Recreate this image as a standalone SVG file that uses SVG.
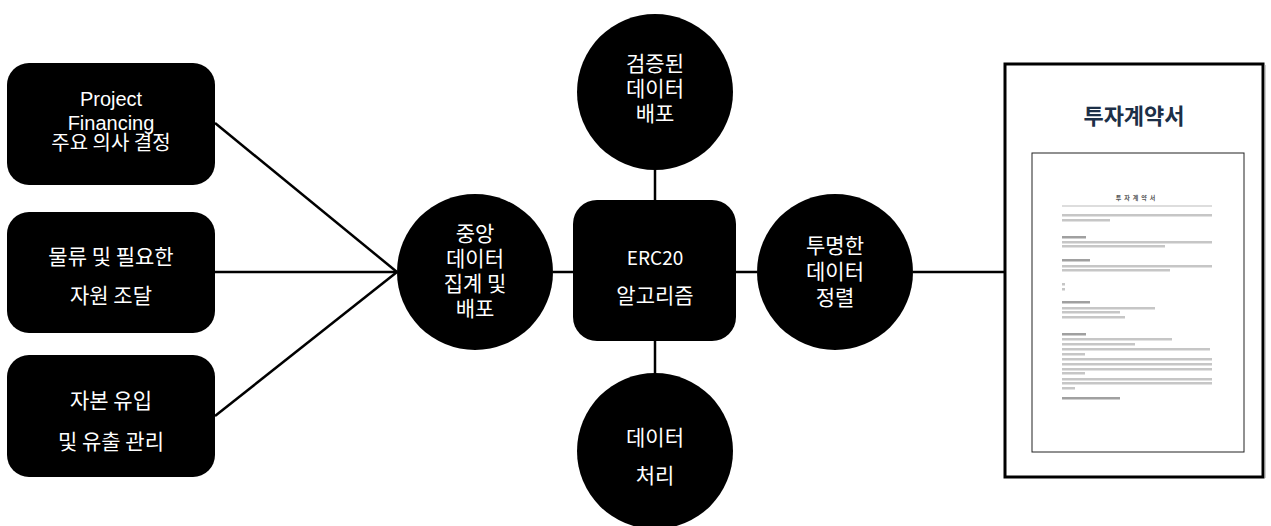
<svg xmlns="http://www.w3.org/2000/svg" width="1271" height="526" viewBox="0 0 1271 526">
<style>
.node{fill:#000}
.lbl{fill:#fff;font-family:"Noto Sans CJK KR","Noto Sans",sans-serif;font-size:21px;text-anchor:middle}
.lat{fill:#fff;font-family:"Liberation Sans",Arial,sans-serif;font-size:20px;text-anchor:middle}
.con{stroke:#000;stroke-width:2.5;fill:none}
.bar{fill:#c6c6c6}
.hd{fill:#a0a0a0}
</style>
<rect width="1271" height="526" fill="#fff"/>
<g id="connectors">
<line class="con" x1="215" y1="123" x2="397" y2="272"/>
<line class="con" x1="215" y1="272" x2="397" y2="272"/>
<line class="con" x1="215" y1="416" x2="397" y2="272"/>
<line class="con" x1="553" y1="272" x2="573" y2="272"/>
<line class="con" x1="655" y1="168" x2="655" y2="200"/>
<line class="con" x1="655" y1="341" x2="655" y2="374"/>
<line class="con" x1="736" y1="272" x2="757" y2="272"/>
<line class="con" x1="913" y1="272" x2="1005" y2="272"/>
</g>
<g id="box-pf">
<rect class="node" x="7" y="63" width="208" height="122" rx="22"/>
<text class="lat" x="111" y="106">Project</text>
<text class="lat" x="111" y="130">Financing</text>
<text class="lbl" x="111" y="150" style="font-size:20px">주요 의사 결정</text>
</g>
<g id="box-logistics">
<rect class="node" x="7" y="212" width="208" height="121" rx="22"/>
<text class="lbl" x="111" y="264">물류 및 필요한</text>
<text class="lbl" x="111" y="303">자원 조달</text>
</g>
<g id="box-capital">
<rect class="node" x="7" y="355" width="208" height="122" rx="22"/>
<text class="lbl" x="111" y="408">자본 유입</text>
<text class="lbl" x="111" y="449">및 유출 관리</text>
</g>
<g id="circle-central">
<circle class="node" cx="475" cy="272" r="78"/>
<text class="lbl" x="475" y="241">중앙</text>
<text class="lbl" x="475" y="266">데이터</text>
<text class="lbl" x="475" y="291">집계 및</text>
<text class="lbl" x="475" y="316">배포</text>
</g>
<g id="box-erc20">
<rect class="node" x="573" y="200" width="163" height="141" rx="24"/>
<text class="lbl" x="655" y="265" style="font-size:19px">ERC20</text>
<text class="lbl" x="655" y="303">알고리즘</text>
</g>
<g id="circle-verified">
<circle class="node" cx="655" cy="92" r="78"/>
<text class="lbl" x="655" y="71">검증된</text>
<text class="lbl" x="655" y="96">데이터</text>
<text class="lbl" x="655" y="121">배포</text>
</g>
<g id="circle-processing">
<circle class="node" cx="655" cy="451" r="78"/>
<text class="lbl" x="655" y="445">데이터</text>
<text class="lbl" x="655" y="483">처리</text>
</g>
<g id="circle-sort">
<circle class="node" cx="835" cy="272" r="78"/>
<text class="lbl" x="835" y="253">투명한</text>
<text class="lbl" x="835" y="279">데이터</text>
<text class="lbl" x="835" y="305">정렬</text>
</g>
<g id="contract">
<rect x="1005" y="64" width="258" height="413" fill="#fff" stroke="#000" stroke-width="3"/>
<line x1="1265" y1="65" x2="1265" y2="478" stroke="#999" stroke-width="1"/>
<text x="1134" y="124" text-anchor="middle" style="font-family:'Noto Sans CJK KR',sans-serif;font-size:22px;font-weight:bold;fill:#1c2f47">투자계약서</text>
<rect x="1032" y="153" width="212" height="299" fill="#fff" stroke="#222" stroke-width="1"/>
<text x="1137" y="200" text-anchor="middle" style="font-family:'Noto Sans CJK KR',sans-serif;font-size:6px;font-weight:bold;fill:#555;letter-spacing:3px">투자계약서</text>
<line x1="1062" y1="206" x2="1212" y2="206" stroke="#aaa" stroke-width="0.8"/>
<rect class="bar" x="1062" y="214" width="150" height="2.5"/>
<rect class="bar" x="1062" y="219" width="48" height="2.5"/>
<rect class="hd" x="1062" y="236" width="24" height="2.5"/>
<rect class="bar" x="1062" y="241" width="150" height="2.5"/>
<rect class="bar" x="1062" y="245" width="103" height="2.5"/>
<rect class="hd" x="1062" y="259" width="28" height="2.5"/>
<rect class="bar" x="1062" y="265" width="150" height="2.5"/>
<rect class="bar" x="1062" y="269" width="108" height="2.5"/>
<rect class="bar" x="1062" y="283" width="3" height="2.5"/>
<rect class="bar" x="1062" y="288" width="3" height="2.5"/>
<rect class="hd" x="1062" y="301" width="28" height="2.5"/>
<rect class="bar" x="1062" y="307" width="93" height="2.5"/>
<rect class="bar" x="1062" y="311" width="58" height="2.5"/>
<rect class="bar" x="1062" y="316" width="63" height="2.5"/>
<rect class="hd" x="1062" y="333" width="24" height="2.5"/>
<rect class="bar" x="1062" y="338" width="110" height="2.5"/>
<rect class="bar" x="1062" y="343" width="73" height="2.5"/>
<rect class="bar" x="1062" y="348" width="148" height="2.5"/>
<rect class="bar" x="1062" y="353" width="23" height="2.5"/>
<rect class="bar" x="1062" y="358" width="150" height="2.5"/>
<rect class="bar" x="1062" y="363" width="150" height="2.5"/>
<rect class="bar" x="1062" y="368" width="150" height="2.5"/>
<rect class="bar" x="1062" y="372" width="23" height="2.5"/>
<rect class="bar" x="1062" y="378" width="150" height="2.5"/>
<rect class="bar" x="1062" y="382" width="150" height="2.5"/>
<rect class="bar" x="1062" y="387" width="13" height="2.5"/>
<rect class="hd" x="1062" y="397" width="58" height="2.5"/>
</g>
</svg>
